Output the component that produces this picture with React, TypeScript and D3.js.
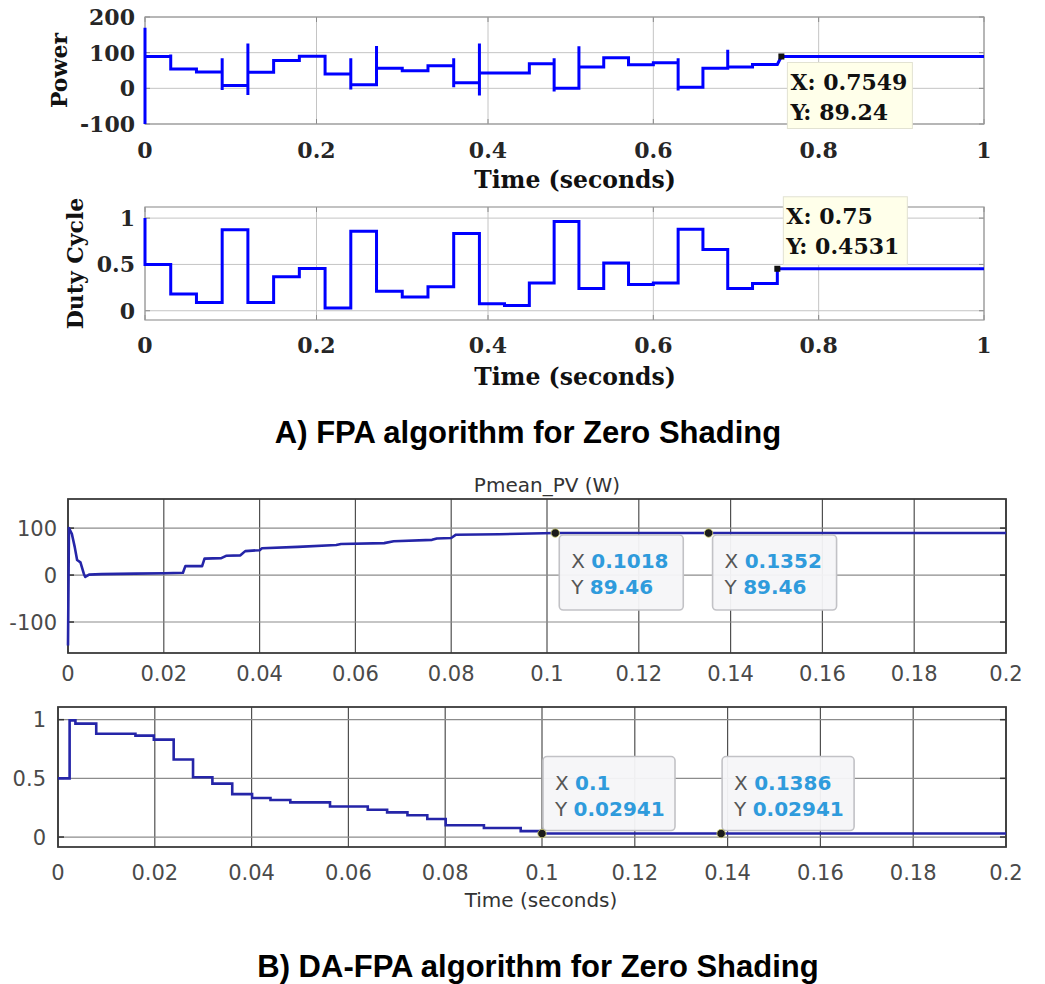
import React from 'react';
import * as d3 from 'd3';

// ---------- Panel A (FPA) data ----------
const fpaPowerTime = [0, 0, 0, 0.03, 0.03, 0.03, 0.06, 0.06, 0.09, 0.09, 0.09, 0.09, 0.12, 0.12, 0.12, 0.12, 0.15, 0.15, 0.18, 0.18, 0.21, 0.21, 0.24, 0.24, 0.24, 0.24, 0.27, 0.27, 0.27, 0.30, 0.30, 0.33, 0.33, 0.36, 0.36, 0.36, 0.36, 0.39, 0.39, 0.39, 0.39, 0.45, 0.45, 0.48, 0.48, 0.48, 0.48, 0.51, 0.51, 0.51, 0.54, 0.54, 0.57, 0.57, 0.60, 0.60, 0.63, 0.63, 0.63, 0.63, 0.66, 0.66, 0.69, 0.69, 0.69, 0.72, 0.72, 0.75, 0.7549, 1];
const fpaPower = [-100, 170, 89, 89, 95, 54, 54, 46, 46, 84, -5, 8, 8, 126, -19, 45, 45, 78, 78, 90, 90, 40, 40, 84, -3, 10, 10, 119, 56, 56, 49, 49, 63, 63, 84, 3, 16, 16, 126, -20, 43, 43, 69, 69, 84, -9, 0, 0, 118, 60, 60, 86, 86, 66, 66, 72, 72, 84, -6, 3, 3, 56, 56, 108, 60, 60, 67, 67, 89.24, 89.24];

const fpaDutyTime = [0, 0, 0.03, 0.06, 0.09, 0.12, 0.15, 0.18, 0.21, 0.24, 0.27, 0.30, 0.33, 0.36, 0.39, 0.42, 0.45, 0.48, 0.51, 0.54, 0.57, 0.60, 0.63, 0.66, 0.69, 0.72, 0.75, 1];
const fpaDuty = [1, 0.5, 0.18, 0.09, 0.875, 0.09, 0.366, 0.455, 0.03, 0.857, 0.21, 0.147, 0.258, 0.835, 0.075, 0.057, 0.30, 0.964, 0.24, 0.516, 0.283, 0.30, 0.88, 0.66, 0.24, 0.294, 0.4531, 0.4531];

const fpaTimeTicks = [0, 0.2, 0.4, 0.6, 0.8, 1];
const fpaTimeLabels = ['0', '0.2', '0.4', '0.6', '0.8', '1'];
const fpaPowerTicks = [-100, 0, 100, 200];
const fpaPowerLabels = ['-100', '0', '100', '200'];
const fpaDutyTicks = [0, 0.5, 1];
const fpaDutyLabels = ['0', '0.5', '1'];

const fpaPowerTip = { x: 0.7549, y: 89.24, xs: '0.7549', ys: '89.24' };
const fpaDutyTip = { x: 0.75, y: 0.4531, xs: '0.75', ys: '0.4531' };

// ---------- Panel B (DA-FPA) data ----------
const daPowerTime = [0, 0.0002, 0.0008, 0.0014, 0.0019, 0.0026, 0.0033, 0.0036, 0.0044, 0.007, 0.014, 0.02, 0.024, 0.0245, 0.028, 0.0285, 0.032, 0.033, 0.036, 0.037, 0.040, 0.0405, 0.048, 0.056, 0.057, 0.066, 0.068, 0.076, 0.077, 0.080, 0.081, 0.090, 0.1018, 0.2];
const daPower = [-150, 100, 88, 60, 32, 27, 3, -4, 1, 2, 3, 4, 5, 19, 19, 35, 36, 41, 42, 51, 53, 57, 60, 64, 66, 68, 72, 75, 78, 79, 86, 87, 89.46, 89.46];

const daDutyTime = [0, 0.0024, 0.0036, 0.0079, 0.016, 0.0198, 0.0239, 0.0279, 0.0319, 0.036, 0.0401, 0.0439, 0.048, 0.0562, 0.064, 0.068, 0.0722, 0.0763, 0.0801, 0.088, 0.0956, 0.1, 0.2];
const daDuty = [0.5, 0.994, 0.966, 0.88, 0.864, 0.83, 0.66, 0.51, 0.455, 0.366, 0.332, 0.315, 0.295, 0.26, 0.233, 0.21, 0.185, 0.153, 0.1, 0.077, 0.05, 0.02941, 0.02941];

const daTimeTicks = [0, 0.02, 0.04, 0.06, 0.08, 0.1, 0.12, 0.14, 0.16, 0.18, 0.2];
const daTimeLabels = ['0', '0.02', '0.04', '0.06', '0.08', '0.1', '0.12', '0.14', '0.16', '0.18', '0.2'];
const daPowerTicks = [-100, 0, 100];
const daPowerLabels = ['-100', '0', '100'];
const daDutyTicks = [0, 0.5, 1];
const daDutyLabels = ['0', '0.5', '1'];

const daPowerTips = [
  { x: 0.1018, y: 89.46, xs: '0.1018', ys: '89.46' },
  { x: 0.1352, y: 89.46, xs: '0.1352', ys: '89.46' },
];
const daDutyTips = [
  { x: 0.1, y: 0.02941, xs: '0.1', ys: '0.02941' },
  { x: 0.1386, y: 0.02941, xs: '0.1386', ys: '0.02941' },
];

const SERIF = "'DejaVu Serif', serif";
const SANS = "'DejaVu Sans', sans-serif";
const ARIAL = "'Liberation Sans', Arial, sans-serif";

type Sc = d3.ScaleLinear<number, number>;

function MatlabAxes({ x, y, xTicks, xLabels, yTicks, yLabels, ylabel, ylabelX, xLabelBase, titleBase }: any) {
  const [x0, x1] = [x.range()[0], x.range()[x.range().length - 1]];
  const [y1, y0] = y.range();
  return (
    <g>
      <rect x={x0} y={y0} width={x1 - x0} height={y1 - y0} fill="#fff" />
      {xTicks.map((t: number, i: number) => (
        <line key={'gx' + i} x1={x(t)} x2={x(t)} y1={y0} y2={y1} stroke="#c4c4c4" strokeWidth={1} />
      ))}
      {yTicks.map((t: number, i: number) => (
        <line key={'gy' + i} x1={x0} x2={x1} y1={y(t)} y2={y(t)} stroke="#c4c4c4" strokeWidth={1} />
      ))}
      {xTicks.map((t: number, i: number) => (
        <g key={'tx' + i}>
          <line x1={x(t)} x2={x(t)} y1={y1} y2={y1 - 5} stroke="#8a8a8a" />
          <line x1={x(t)} x2={x(t)} y1={y0} y2={y0 + 5} stroke="#8a8a8a" />
        </g>
      ))}
      {yTicks.map((t: number, i: number) => (
        <g key={'ty' + i}>
          <line x1={x0} x2={x0 + 5} y1={y(t)} y2={y(t)} stroke="#8a8a8a" />
          <line x1={x1} x2={x1 - 5} y1={y(t)} y2={y(t)} stroke="#8a8a8a" />
        </g>
      ))}
      <rect x={x0} y={y0} width={x1 - x0} height={y1 - y0} fill="none" stroke="#9a9a9a" strokeWidth={1.2} />
      {xLabels.map((s: string, i: number) => (
        <text key={'lx' + i} x={x(xTicks[i])} y={xLabelBase} textAnchor="middle" fontFamily={SERIF} fontWeight="bold" fontSize={22} fill="#262626">{s}</text>
      ))}
      {yLabels.map((s: string, i: number) => (
        <text key={'ly' + i} x={x0 - 10} y={y(yTicks[i])} dy="0.36em" textAnchor="end" fontFamily={SERIF} fontWeight="bold" fontSize={22} fill="#262626">{s}</text>
      ))}
      <text transform={`translate(${ylabelX},${(y0 + y1) / 2}) rotate(-90)`} textAnchor="middle" fontFamily={SERIF} fontWeight="bold" fontSize={22} fill="#111">{ylabel}</text>
      <text x={575} y={titleBase} textAnchor="middle" fontFamily={SERIF} fontWeight="bold" fontSize={23.5} fill="#111">Time (seconds)</text>
    </g>
  );
}

function MatlabTip({ px, py, dx, dy, w, h, xs, ys }: any) {
  return (
    <g>
      <rect x={px - 3} y={py - 3} width={6} height={6} fill="#111" />
      <rect x={px + dx} y={py + dy} width={w} height={h} fill="#ffffea" stroke="#e2e2d2" strokeWidth={1} />
      <text x={px + dx + 3} y={py + dy + 27} fontFamily={SERIF} fontWeight="bold" fontSize={22} fill="#111">X: {xs}</text>
      <text x={px + dx + 3} y={py + dy + 57} fontFamily={SERIF} fontWeight="bold" fontSize={22} fill="#111">Y: {ys}</text>
    </g>
  );
}

function ScopeAxes({ x, y, xTicks, xLabels, yTicks, yLabels, xLabelBase, yLabelRight }: any) {
  const [x0, x1] = [x.range()[0], x.range()[x.range().length - 1]];
  const [y1, y0] = y.range();
  return (
    <g>
      <rect x={x0} y={y0} width={x1 - x0} height={y1 - y0} fill="#fff" />
      {xTicks.map((t: number, i: number) => (
        <line key={'gx' + i} x1={x(t)} x2={x(t)} y1={y0} y2={y1} stroke="#505050" strokeWidth={1.2} />
      ))}
      {yTicks.map((t: number, i: number) => (
        <line key={'gy' + i} x1={x0} x2={x1} y1={y(t)} y2={y(t)} stroke="#8c8c8c" strokeWidth={1.2} />
      ))}
      {yTicks.map((t: number, i: number) => (
        <g key={'ty' + i}>
          <line x1={x0} x2={x0 + 6} y1={y(t)} y2={y(t)} stroke="#333" strokeWidth={1.5} />
          <line x1={x1} x2={x1 - 6} y1={y(t)} y2={y(t)} stroke="#333" strokeWidth={1.5} />
        </g>
      ))}
      <rect x={x0} y={y0} width={x1 - x0} height={y1 - y0} fill="none" stroke="#3a3a3a" strokeWidth={1.8} />
      {xLabels.map((s: string, i: number) => (
        <text key={'lx' + i} x={x(xTicks[i])} y={xLabelBase} textAnchor="middle" fontFamily={SANS} fontSize={21} fill="#4a4a4a">{s}</text>
      ))}
      {yLabels.map((s: string, i: number) => (
        <text key={'ly' + i} x={yLabelRight} y={y(yTicks[i])} dy="0.36em" textAnchor="end" fontFamily={SANS} fontSize={21} fill="#4a4a4a">{s}</text>
      ))}
    </g>
  );
}

function ScopeTip({ px, py, dx, dy, w, h, xs, ys }: any) {
  return (
    <g>
      <rect x={px + dx} y={py + dy} width={w} height={h} rx={4} fill="#f6f6f8" fillOpacity={0.95} stroke="#c2c2c6" strokeWidth={1.6} />
      <text x={px + dx + 12} y={py + dy + 33} fontFamily={SANS} fontSize={20} fill="#555">X <tspan fill="#2f9bdc" fontWeight="bold">{xs}</tspan></text>
      <text x={px + dx + 12} y={py + dy + 59} fontFamily={SANS} fontSize={20} fill="#555">Y <tspan fill="#2f9bdc" fontWeight="bold">{ys}</tspan></text>
      <circle cx={px} cy={py} r={4.2} fill="#1b1b1b" stroke="#cfcf70" strokeWidth={0.8} />
    </g>
  );
}

export default function App() {
  // Panel A scales
  const xA: Sc = d3.scaleLinear().domain([0, 0.4, 1]).range([145, 488, 984]);
  const yA1: Sc = d3.scaleLinear().domain([-100, 200]).range([124, 17]);
  const yA2: Sc = d3.scaleLinear().domain([-0.1, 1.12]).range([320, 207]);

  // Panel B scales
  const xB1: Sc = d3.scaleLinear().domain([0, 0.1, 0.2]).range([68, 547, 1006]);
  const yB1: Sc = d3.scaleLinear().domain([-166, 162]).range([653, 499]);
  const xB2: Sc = d3.scaleLinear().domain([0, 0.1, 0.2]).range([58, 542, 1006]);
  const yB2: Sc = d3.scaleLinear().domain([-0.085, 1.108]).range([847, 707]);

  const a1 = fpaPowerTime.map((t, i) => [t, fpaPower[i]] as [number, number]);
  const a2 = fpaDutyTime.map((t, i) => [t, fpaDuty[i]] as [number, number]);
  const b1 = daPowerTime.map((t, i) => [t, daPower[i]] as [number, number]);
  const b2 = daDutyTime.map((t, i) => [t, daDuty[i]] as [number, number]);

  const lineA1 = d3.line<[number, number]>().x(d => xA(d[0])).y(d => yA1(d[1]))(a1) || '';
  const lineA2 = d3.line<[number, number]>().x(d => xA(d[0])).y(d => yA2(d[1])).curve(d3.curveStepAfter)(a2) || '';
  const lineB1 = d3.line<[number, number]>().x(d => xB1(d[0])).y(d => yB1(d[1]))(b1) || '';
  const lineB2 = d3.line<[number, number]>().x(d => xB2(d[0])).y(d => yB2(d[1])).curve(d3.curveStepAfter)(b2) || '';

  return (
    <svg width={1045} height={984} style={{ position: 'absolute', left: 0, top: 0, display: 'block', background: '#fff' }}>
      <rect x={0} y={0} width={1045} height={984} fill="#fff" />

      {/* A1: Power */}
      <MatlabAxes x={xA} y={yA1} xTicks={fpaTimeTicks} xLabels={fpaTimeLabels} yTicks={fpaPowerTicks} yLabels={fpaPowerLabels}
        ylabel="Power" ylabelX={67} xLabelBase={158} titleBase={188} />
      <path d={lineA1} fill="none" stroke="#0000ff" strokeWidth={3} strokeLinejoin="miter" />
      <MatlabTip px={xA(fpaPowerTip.x)} py={yA1(fpaPowerTip.y)} dx={6} dy={6} w={125} h={66} xs={fpaPowerTip.xs} ys={fpaPowerTip.ys} />

      {/* A2: Duty Cycle */}
      <MatlabAxes x={xA} y={yA2} xTicks={fpaTimeTicks} xLabels={fpaTimeLabels} yTicks={fpaDutyTicks} yLabels={fpaDutyLabels}
        ylabel="Duty Cycle" ylabelX={83} xLabelBase={353} titleBase={385} />
      <path d={lineA2} fill="none" stroke="#0000ff" strokeWidth={3} />
      <MatlabTip px={xA(fpaDutyTip.x)} py={yA2(fpaDutyTip.y)} dx={6} dy={-72} w={124} h={68} xs={fpaDutyTip.xs} ys={fpaDutyTip.ys} />

      <text x={528} y={443} textAnchor="middle" fontFamily={ARIAL} fontWeight="bold" fontSize={31} fill="#000">A) FPA algorithm for Zero Shading</text>

      {/* B1: Pmean_PV */}
      <text x={547} y={492} textAnchor="middle" fontFamily={SANS} fontSize={20} fill="#333">Pmean_PV (W)</text>
      <ScopeAxes x={xB1} y={yB1} xTicks={daTimeTicks} xLabels={daTimeLabels} yTicks={daPowerTicks} yLabels={daPowerLabels}
        xLabelBase={681} yLabelRight={57} />
      <path d={lineB1} fill="none" stroke="#2525a8" strokeWidth={2.6} strokeLinejoin="round" />
      {daPowerTips.map((tp, i) => (
        <ScopeTip key={'bp' + i} px={xB1(tp.x)} py={yB1(tp.y)} dx={4} dy={2} w={124} h={75} xs={tp.xs} ys={tp.ys} />
      ))}

      {/* B2: duty */}
      <ScopeAxes x={xB2} y={yB2} xTicks={daTimeTicks} xLabels={daTimeLabels} yTicks={daDutyTicks} yLabels={daDutyLabels}
        xLabelBase={880} yLabelRight={46} />
      <path d={lineB2} fill="none" stroke="#2525a8" strokeWidth={2.6} />
      {daDutyTips.map((tp, i) => (
        <ScopeTip key={'bd' + i} px={xB2(tp.x)} py={yB2(tp.y)} dx={1} dy={-77} w={132} h={74} xs={tp.xs} ys={tp.ys} />
      ))}
      <text x={541} y={907} textAnchor="middle" fontFamily={SANS} fontSize={20} fill="#333">Time (seconds)</text>

      <text x={538} y={977} textAnchor="middle" fontFamily={ARIAL} fontWeight="bold" fontSize={31} fill="#000">B) DA-FPA algorithm for Zero Shading</text>
    </svg>
  );
}
